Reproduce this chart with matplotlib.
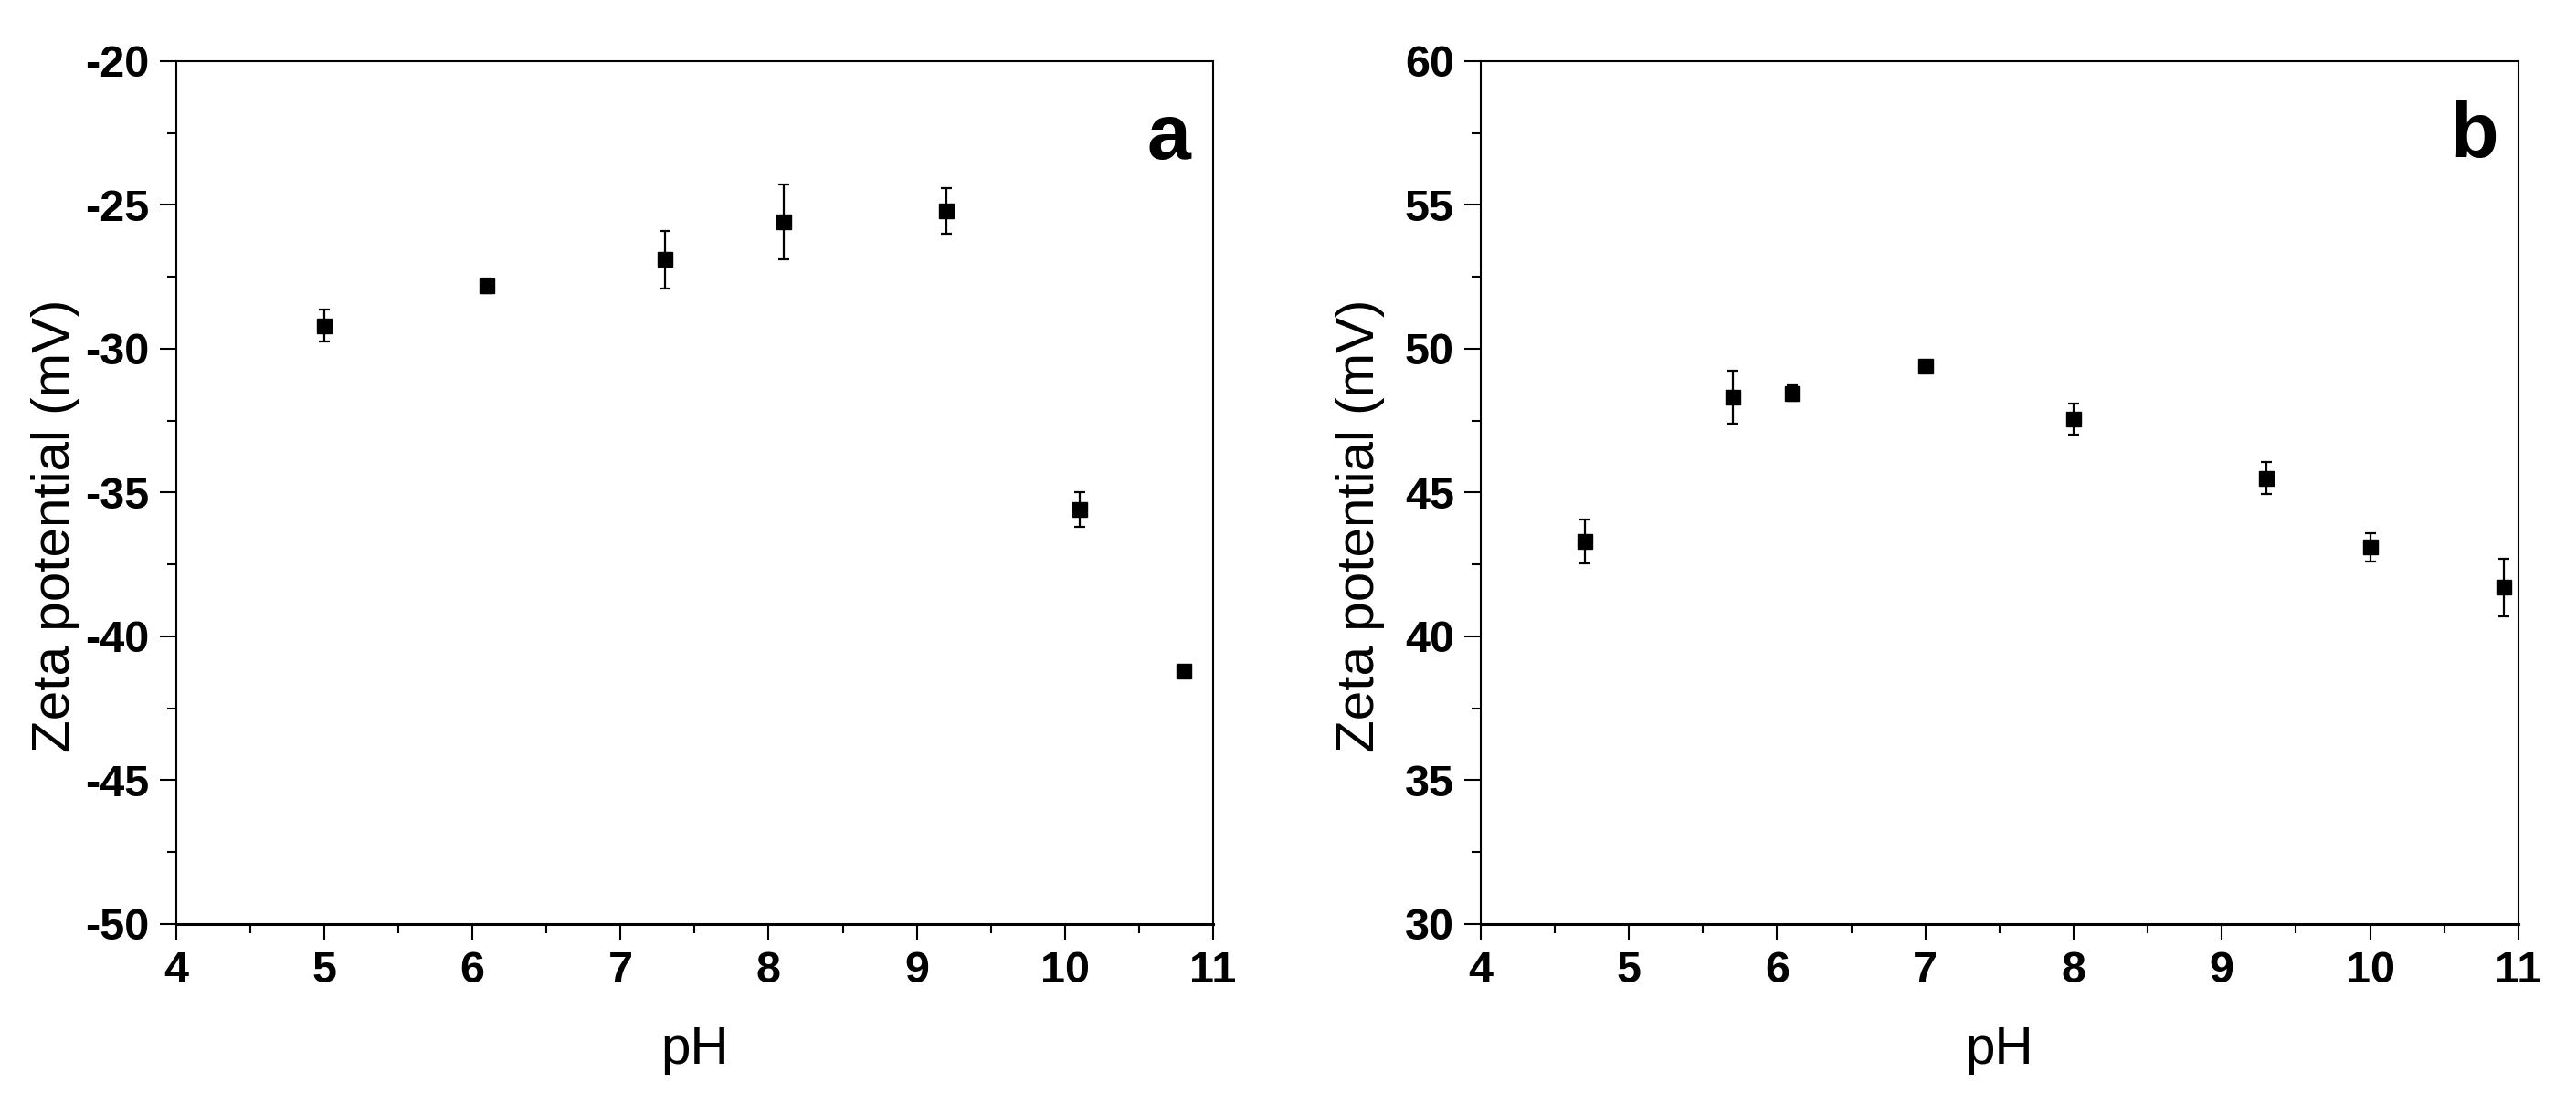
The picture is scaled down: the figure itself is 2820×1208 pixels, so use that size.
import numpy as np
import matplotlib
matplotlib.use("Agg")
import matplotlib.pyplot as plt
from matplotlib.ticker import MultipleLocator

# panel a: negative zeta potential
ph_a = [5.0, 6.1, 7.3, 8.1, 9.2, 10.1, 10.8]
zeta_a = [-29.2, -27.8, -26.9, -25.6, -25.2, -35.6, -41.2]
err_a = [0.55, 0.25, 1.0, 1.3, 0.8, 0.6, 0.1]

# panel b: positive zeta potential
ph_b = [4.7, 5.7, 6.1, 7.0, 8.0, 9.3, 10.0, 10.9]
zeta_b = [43.3, 48.3, 48.45, 49.4, 47.55, 45.5, 43.1, 41.7]
err_b = [0.75, 0.92, 0.27, 0.2, 0.55, 0.55, 0.5, 1.0]

plt.rcParams['axes.unicode_minus'] = False
fam = ['Liberation Sans', 'DejaVu Sans']

fig = plt.figure(figsize=(28.2, 12.08), dpi=100)
ax_a = fig.add_axes([0.0684, 0.1623, 0.4025, 0.7823])
ax_b = fig.add_axes([0.5748, 0.1623, 0.4028, 0.7823])


def style_axis(ax, ylim, ymajor, letter, lx, ly):
    ax.set_xlim(4, 11)
    ax.set_ylim(*ylim)
    ax.xaxis.set_major_locator(MultipleLocator(1))
    ax.xaxis.set_minor_locator(MultipleLocator(0.5))
    ax.yaxis.set_major_locator(MultipleLocator(ymajor))
    ax.yaxis.set_minor_locator(MultipleLocator(ymajor / 2))
    for sp in ax.spines.values():
        sp.set_linewidth(1.5)
    ax.spines['bottom'].set_linewidth(2.2)
    ax.tick_params(which='major', direction='out', length=13, width=1.5, pad=8)
    ax.tick_params(which='minor', direction='out', length=7, width=1.5)
    ax.tick_params(top=False, right=False, which='both')
    for lab in ax.get_xticklabels() + ax.get_yticklabels():
        lab.set_family(fam)
        lab.set_fontweight('bold')
        lab.set_fontsize(35)
    ax.set_xlabel('pH', family=fam, fontsize=42)
    ax.set_ylabel('Zeta potential (mV)', family=fam, fontsize=42)
    ax.xaxis.set_label_coords(0.5, -0.118)
    ax.yaxis.set_label_coords(-0.092, 0.462)
    ax.text(lx, ly, letter, transform=ax.transAxes, ha='right', va='baseline',
            family=fam, fontweight='bold', fontsize=62)


ax_a.errorbar(ph_a, zeta_a, yerr=err_a, fmt='s', color='black', markersize=11,
              capsize=4.5, elinewidth=1.6, capthick=1.6)
ax_b.errorbar(ph_b, zeta_b, yerr=err_b, fmt='s', color='black', markersize=11,
              capsize=4.5, elinewidth=1.6, capthick=1.6)

style_axis(ax_a, (-50, -20), 5, 'a', 0.978, 0.887)
style_axis(ax_b, (30, 60), 5, 'b', 0.981, 0.889)

fig.savefig('out.png', dpi=100)
